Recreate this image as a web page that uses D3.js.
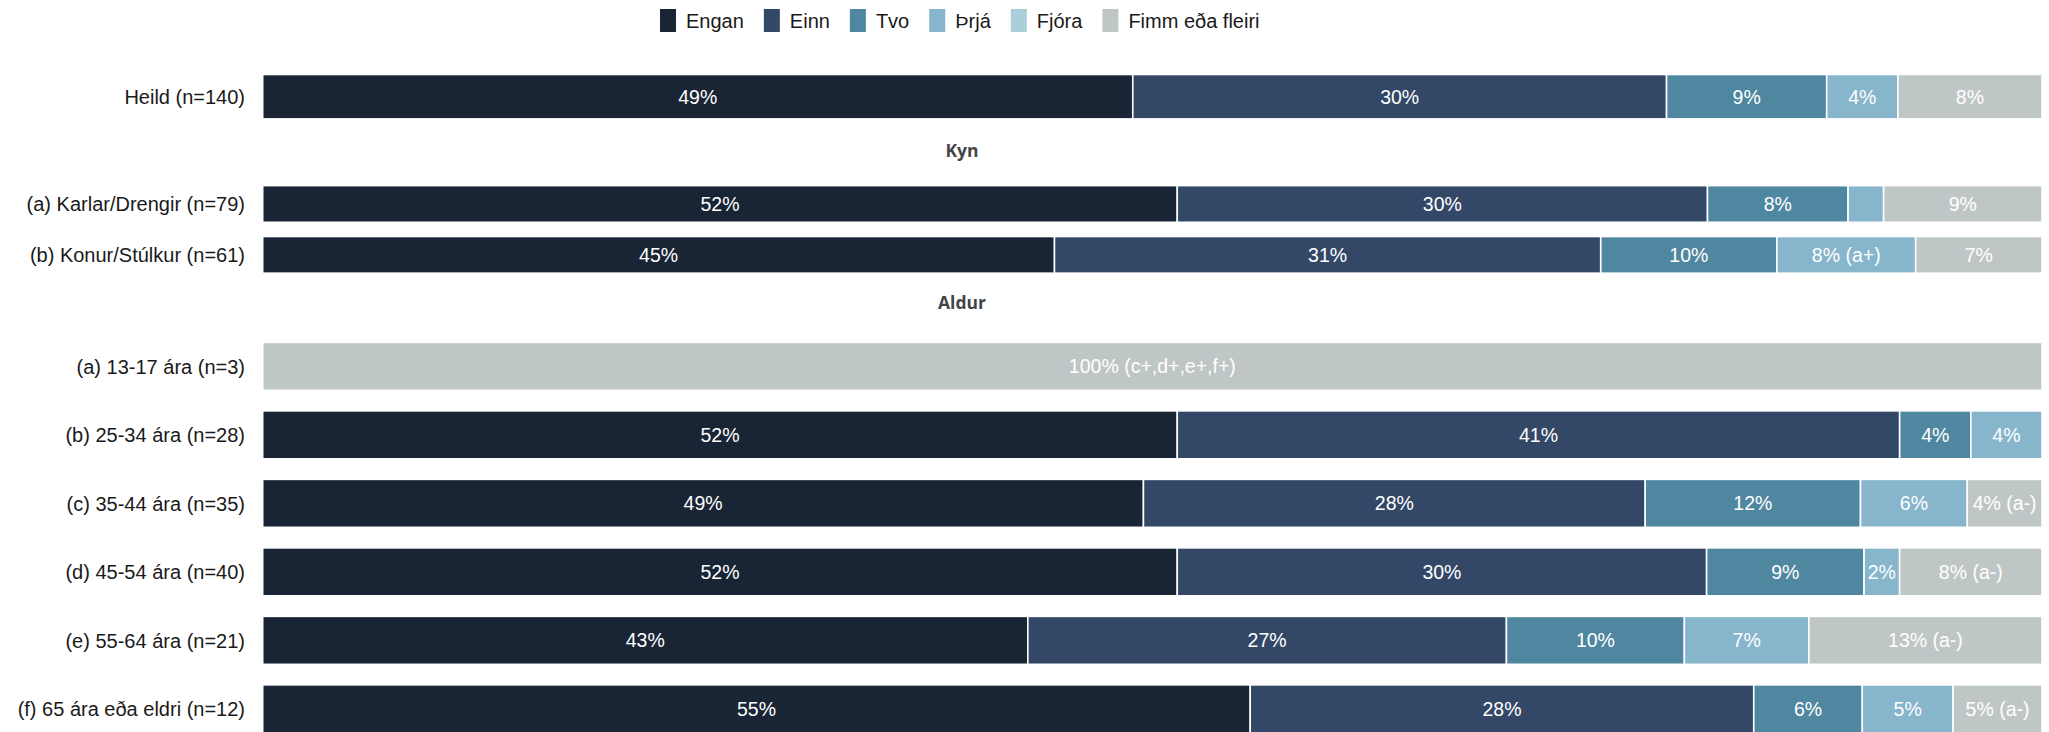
<!DOCTYPE html>
<html>
<head>
<meta charset="utf-8">
<script src="https://cdn.jsdelivr.net/npm/d3@7"></script>
<style>
  html, body { margin: 0; padding: 0; background: #ffffff; }
  svg { display: block; }
</style>
</head>
<body>
<svg id="chart" width="2049" height="732"></svg>
<script>
// ---------- DATA ----------
const categories = [
  "Heild (n=140)",
  "(a) Karlar/Drengir (n=79)",
  "(b) Konur/Stúlkur (n=61)",
  "(a) 13-17 ára (n=3)",
  "(b) 25-34 ára (n=28)",
  "(c) 35-44 ára (n=35)",
  "(d) 45-54 ára (n=40)",
  "(e) 55-64 ára (n=21)",
  "(f) 65 ára eða eldri (n=12)"
];
const facetOf = ["Heild", "Kyn", "Kyn", "Aldur", "Aldur", "Aldur", "Aldur", "Aldur", "Aldur"];
const facetNames = ["Heild", "Kyn", "Aldur"];
const facetTitles = ["", "Kyn", "Aldur"];

const seriesNames = ["Engan", "Einn", "Tvo", "Þrjá", "Fjóra", "Fimm eða fleiri"];
const seriesColors = ["#192535", "#334766", "#4f87a0", "#87b5cb", "#a9cfdb", "#bfc7c6"];

const engan = [48.9, 51.4, 44.5, 0, 51.4, 49.5, 51.4, 43.0, 55.5];
const einn  = [30.0, 29.8, 30.7, 0, 40.6, 28.2, 29.75, 26.9, 28.3];
const tvo   = [9.0, 7.9, 9.9, 0, 4.0, 12.1, 8.85, 10.0, 6.1];
const thrja = [4.0, 2.0, 7.8, 0, 4.0, 6.0, 2.0, 7.0, 5.1];
const fjora = [0, 0, 0, 0, 0, 0, 0, 0, 0];
const fimm  = [8.1, 8.9, 7.1, 100, 0, 4.2, 8.0, 13.1, 5.0];

const enganLbl = ["49%", "52%", "45%", "", "52%", "49%", "52%", "43%", "55%"];
const einnLbl  = ["30%", "30%", "31%", "", "41%", "28%", "30%", "27%", "28%"];
const tvoLbl   = ["9%", "8%", "10%", "", "4%", "12%", "9%", "10%", "6%"];
const thrjaLbl = ["4%", "", "8% (a+)", "", "4%", "6%", "2%", "7%", "5%"];
const fjoraLbl = ["", "", "", "", "", "", "", "", ""];
const fimmLbl  = ["8%", "9%", "7%", "100% (c+,d+,e+,f+)", "", "4% (a-)", "8% (a-)", "13% (a-)", "5% (a-)"];

const seriesValues = [engan, einn, tvo, thrja, fjora, fimm];
const seriesLabels = [enganLbl, einnLbl, tvoLbl, thrjaLbl, fjoraLbl, fimmLbl];

// ---------- LAYOUT ----------
const svg = d3.select("#chart");
const FONT = "'Liberation Sans', Arial, sans-serif";

const x = d3.scaleLinear().domain([0, 100]).range([262.7, 2042]);

// per-facet band scales
const facetLayout = {
  Heild: { range: [65.0, 128.4], pi: 0.3, po: 0.15 },
  Kyn:   { range: [178.5, 280.3], pi: 0.28, po: 0.14 },
  Aldur: { range: [332.1, 743.1], pi: 0.3, po: 0.15 }
};
const yScales = {};
facetNames.forEach(f => {
  const cats = categories.filter((c, i) => facetOf[i] === f);
  yScales[f] = d3.scaleBand().domain(cats)
    .range(facetLayout[f].range)
    .paddingInner(facetLayout[f].pi)
    .paddingOuter(facetLayout[f].po);
});

// build stacked rows
const rows = categories.map((c, i) => {
  let acc = 0;
  const segs = seriesValues.map((vals, s) => {
    const v = vals[i];
    const seg = { s, x0: acc, x1: acc + v, v, label: seriesLabels[s][i] };
    acc += v;
    return seg;
  });
  return { cat: c, facet: facetOf[i], segs };
});

// ---------- FACET TITLES ----------
const titlePos = { Kyn: 156.5, Aldur: 309 };
facetNames.forEach((f, k) => {
  if (!facetTitles[k]) return;
  svg.append("text")
    .attr("x", 962)
    .attr("y", titlePos[f])
    .attr("text-anchor", "middle")
    .attr("font-family", "'Open Sans', 'DejaVu Sans', sans-serif")
    .attr("font-weight", "bold")
    .attr("font-size", "17.5px")
    .attr("fill", "#454545")
    .text(facetTitles[k]);
});

// ---------- BARS ----------
const rowG = svg.selectAll("g.row").data(rows).enter().append("g").attr("class", "row");

rowG.each(function (r) {
  const g = d3.select(this);
  const y = yScales[r.facet];
  const yTop = y(r.cat), bh = y.bandwidth();
  g.selectAll("rect").data(r.segs.filter(d => d.v > 0)).enter().append("rect")
    .attr("x", d => x(d.x0))
    .attr("y", yTop)
    .attr("width", d => x(d.x1) - x(d.x0))
    .attr("height", bh)
    .attr("fill", d => seriesColors[d.s])
    .attr("stroke", "#ffffff")
    .attr("stroke-width", 1.6);
  g.selectAll("text.val").data(r.segs.filter(d => d.v > 0 && d.label)).enter().append("text")
    .attr("class", "val")
    .attr("x", d => (x(d.x0) + x(d.x1)) / 2)
    .attr("y", yTop + bh / 2)
    .attr("dy", "0.36em")
    .attr("text-anchor", "middle")
    .attr("font-family", FONT)
    .attr("font-size", "19.5px")
    .attr("fill", "#ffffff")
    .text(d => d.label);
  // category label
  g.append("text")
    .attr("x", 245)
    .attr("y", yTop + bh / 2)
    .attr("dy", "0.36em")
    .attr("text-anchor", "end")
    .attr("font-family", FONT)
    .attr("font-size", "20px")
    .attr("fill", "#1a1a1a")
    .text(r.cat);
});

// ---------- LEGEND ----------
const legend = svg.append("g");
const keyW = 16, keyH = 23, pad = 10, gap = 20;
let lx = 0;
const items = [];
seriesNames.forEach((n, i) => {
  const it = legend.append("g");
  it.append("rect").attr("x", 0).attr("y", 9).attr("width", keyW).attr("height", keyH)
    .attr("fill", seriesColors[i]);
  const t = it.append("text").attr("x", keyW + pad).attr("y", 20.5).attr("dy", "0.36em")
    .attr("font-family", FONT).attr("font-size", "20px").attr("fill", "#1a1a1a").text(n);
  const w = t.node().getComputedTextLength();
  items.push({ it, w });
});
items.forEach(o => {
  o.it.attr("transform", `translate(${lx},0)`);
  lx += keyW + pad + o.w + gap;
});
const totalW = lx - gap;
legend.attr("transform", `translate(${660},0)`);
</script>
</body>
</html>
